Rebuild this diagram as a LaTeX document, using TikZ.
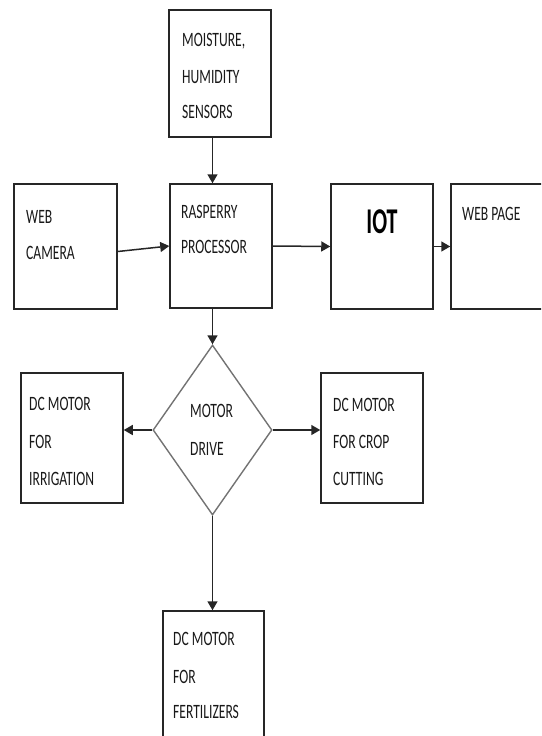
\documentclass[tikz,border=0pt]{standalone}
\usepackage{fontspec}
\setmainfont{Carlito}
\usepackage{graphicx}
\usetikzlibrary{shapes.geometric,arrows.meta}
\newcommand\stx[1]{\scalebox{1}[1.5]{#1}}
\begin{document}
\begin{tikzpicture}[x=1pt,y=-1pt,
  box/.style={draw=black!85,line width=1.5pt,inner sep=0pt,minimum width=102pt},
  txt/.style={anchor=base west,inner sep=0pt,text=black!90,font=\fontsize{13.6}{16}\selectfont},
  arr/.style={draw=black!85,line width=1.5pt,-{Triangle[length=9pt,width=10pt]}}]
\useasboundingbox (0,0) rectangle (541,736);
\clip (0,0) rectangle (541,736);
% boxes
\node[box,minimum height=127pt] (moist) at (220,73.5) {};
\node[box,minimum width=103pt,minimum height=125pt] (cam) at (65.5,246.5) {};
\node[box,minimum height=124pt] (rasp) at (221,246) {};
\node[box,minimum height=125pt] (iot) at (382,246.5) {};
\node[box,minimum height=125pt] (web) at (502,246.5) {};
\node[box,minimum height=130pt] (irr) at (72,438) {};
\node[box,minimum height=130pt] (crop) at (372,438) {};
\node[box,minimum width=101pt,minimum height=140pt] (fert) at (213.5,681) {};
\node[draw=black!55,line width=1.4pt,shape=diamond,inner sep=0pt,minimum width=119pt,minimum height=170pt] (dia) at (212.5,430) {};
% texts
\node[txt] (m1) at (182,46) {\stx{MOISTURE,}};
\node[txt] (m2) at (182,83) {\stx{HUMIDITY}};
\node[txt] (m3) at (182,118) {\stx{SENSORS}};
\node[txt] (c1) at (26,223) {\stx{WEB}};
\node[txt] (c2) at (26,259) {\stx{CAMERA}};
\node[txt] (r1) at (181,218) {\stx{RASPERRY}};
\node[txt] (r2) at (181,253) {\stx{PROCESSOR}};
\node[anchor=base,inner sep=0pt,font=\fontsize{22}{26}\selectfont\bfseries] (i1) at (382,233) {\scalebox{1}[1.65]{IOT}};
\node[txt] (w1) at (462,220) {\stx{WEB PAGE}};
\node[txt] (d1) at (190,417) {\stx{MOTOR}};
\node[txt] (d2) at (190,455) {\stx{DRIVE}};
\node[txt] (ir1) at (29,410) {\stx{DC MOTOR}};
\node[txt] (ir2) at (29,448) {\stx{FOR}};
\node[txt] (ir3) at (29,485) {\stx{IRRIGATION}};
\node[txt] (cr1) at (333,411) {\stx{DC MOTOR}};
\node[txt] (cr2) at (333,448) {\stx{FOR CROP}};
\node[txt] (cr3) at (333,485) {\stx{CUTTING}};
\node[txt] (f1) at (173,645) {\stx{DC MOTOR}};
\node[txt] (f2) at (173,683) {\stx{FOR}};
\node[txt] (f3) at (173,718) {\stx{FERTILIZERS}};
% connectors
\draw[arr] (moist.south -| dia.north) -- (rasp.north -| dia.north);
\draw[arr] ([yshift=-5pt]cam.east) -- (rasp.west);
\draw[arr] (rasp.east) -- (iot.west);
\draw[arr] (iot.east) -- (web.west);
\draw[arr] (rasp.south -| dia.north) -- (dia.north);
\draw[arr] (dia.west) -- (dia.west -| irr.east);
\draw[arr] (dia.east) -- (dia.east -| crop.west);
\draw[arr] (dia.south) -- (dia.south |- fert.north);
\end{tikzpicture}
\end{document}
